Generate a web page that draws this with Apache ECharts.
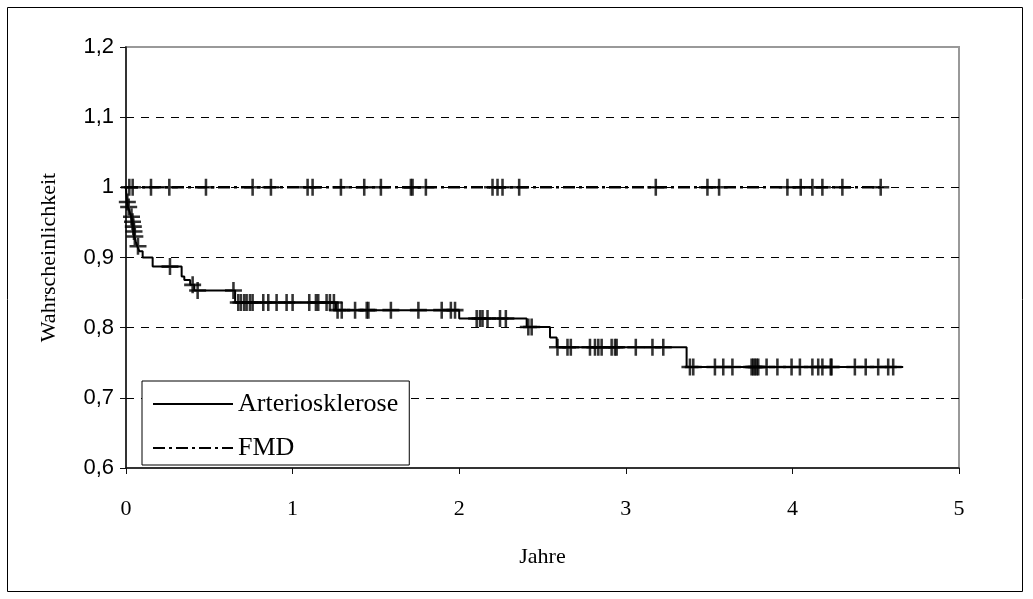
<!DOCTYPE html>
<html>
<head>
<meta charset="utf-8">
<script src="https://cdn.jsdelivr.net/npm/echarts@6/dist/echarts.min.js"></script>
<style>
html,body{margin:0;padding:0;background:#fff;}
#chart{width:1033px;height:599px;}
</style>
</head>
<body>
<div id="chart"></div>
<script>
// ---- data ----
const xTickLabels = ['0', '1', '2', '3', '4', '5'];
const yTickLabels = ['0,6', '0,7', '0,8', '0,9', '1', '1,1', '1,2'];
const seriesNames = ['Arteriosklerose', 'FMD'];

// Arteriosklerose step curve (time in years, survival probability after the step)
const arterioTimes = [0, 0.005, 0.012, 0.022, 0.03, 0.036, 0.042, 0.046, 0.05, 0.058, 0.068, 0.08, 0.1, 0.16, 0.334, 0.35, 0.385, 0.41, 0.655, 1.26, 2.0, 2.405, 2.545, 2.585, 3.365, 4.665];
const arterioSurv = [1.0, 0.979, 0.972, 0.965, 0.958, 0.951, 0.944, 0.937, 0.930, 0.923, 0.916, 0.909, 0.900, 0.887, 0.873, 0.868, 0.861, 0.853, 0.836, 0.825, 0.813, 0.801, 0.786, 0.772, 0.744, 0.744];

// Arteriosklerose censoring marks
const arterioCensorTimes = [0.008, 0.016, 0.033, 0.039, 0.044, 0.048, 0.053, 0.072,
  0.264, 0.40, 0.43, 0.645,
  0.674, 0.69, 0.71, 0.724, 0.744, 0.76, 0.824, 0.854, 0.904, 0.964, 1.0, 1.1, 1.14, 1.154, 1.204, 1.224, 1.248,
  1.27, 1.295, 1.375, 1.445, 1.455, 1.59, 1.755, 1.895, 1.95, 1.975,
  2.105, 2.125, 2.14, 2.17, 2.245, 2.28,
  2.415, 2.435,
  2.59, 2.65, 2.67, 2.785, 2.815, 2.835, 2.855, 2.915, 2.935, 2.945, 3.06, 3.16, 3.225,
  3.385, 3.405, 3.535, 3.585, 3.64, 3.755, 3.765, 3.775, 3.785, 3.795, 3.845, 3.91, 3.995, 4.045, 4.12, 4.155, 4.18, 4.23, 4.235, 4.375, 4.44, 4.515, 4.575, 4.605];
const arterioCensorSurv = [0.979, 0.972, 0.958, 0.951, 0.944, 0.937, 0.930, 0.916,
  0.887, 0.861, 0.853, 0.853,
  0.836, 0.836, 0.836, 0.836, 0.836, 0.836, 0.836, 0.836, 0.836, 0.836, 0.836, 0.836, 0.836, 0.836, 0.836, 0.836, 0.836,
  0.825, 0.825, 0.825, 0.825, 0.825, 0.825, 0.825, 0.825, 0.825, 0.825,
  0.813, 0.813, 0.813, 0.813, 0.813, 0.813,
  0.801, 0.801,
  0.772, 0.772, 0.772, 0.772, 0.772, 0.772, 0.772, 0.772, 0.772, 0.772, 0.772, 0.772, 0.772,
  0.744, 0.744, 0.744, 0.744, 0.744, 0.744, 0.744, 0.744, 0.744, 0.744, 0.744, 0.744, 0.744, 0.744, 0.744, 0.744, 0.744, 0.744, 0.744, 0.744, 0.744, 0.744, 0.744, 0.744];

// FMD curve (no events)
const fmdTimes = [0, 4.53];
const fmdSurv = [1.0, 1.0];
const fmdCensorTimes = [0.02, 0.04, 0.15, 0.26, 0.48, 0.76, 0.87, 1.09, 1.12, 1.29, 1.43, 1.53, 1.71, 1.72, 1.80, 2.20, 2.23, 2.26, 2.36, 3.18, 3.49, 3.56, 3.97, 4.05, 4.12, 4.18, 4.30, 4.53];
const fmdCensorSurv = fmdCensorTimes.map(() => 1.0);

// ---- build ----
const zip = (a, b) => a.map((v, i) => [v, b[i]]);
const plusSymbol = 'path://M6.8,0H9.2V16H6.8Z M0,6.8H16V9.2H0Z';
const serif = 'Liberation Serif';
const sans = 'Liberation Sans';

const chart = echarts.init(document.getElementById('chart'), null, {renderer: 'canvas'});
chart.setOption({
  animation: false,
  backgroundColor: '#fff',
  graphic: [{
    type: 'rect', silent: true, z: -10,
    shape: {x: 7.5, y: 7.5, width: 1015, height: 584},
    style: {fill: 'none', stroke: '#000', lineWidth: 1}
  }],
  grid: {left: 126, right: 74, top: 47, bottom: 131, show: true, borderColor: '#999', borderWidth: 2, backgroundColor: '#fff'},
  legend: {
    data: seriesNames,
    orient: 'vertical', left: 142, top: 381,
    itemWidth: 80, itemHeight: 12, itemGap: 18,
    padding: [10, 11, 4, 10],
    backgroundColor: '#fff', borderColor: '#000', borderWidth: 1, borderRadius: 0,
    textStyle: {fontFamily: serif, fontSize: 26, color: '#000'},
    itemStyle: {color: 'rgba(0,0,0,0)', borderWidth: 0, opacity: 0},
    selectedMode: false
  },
  xAxis: {
    type: 'value', min: 0, max: 5, interval: 1,
    name: 'Jahre', nameLocation: 'middle', nameGap: 78,
    nameTextStyle: {fontFamily: serif, fontSize: 22, color: '#000'},
    axisLine: {show: true, onZero: false, lineStyle: {color: '#111', width: 1.5}},
    axisTick: {show: true, inside: false, length: 6, lineStyle: {color: '#111', width: 1}},
    axisLabel: {margin: 30, fontFamily: serif, fontSize: 22, color: '#000',
      formatter: v => xTickLabels[Math.round(v)]},
    splitLine: {show: false}
  },
  yAxis: {
    type: 'value', min: 0.6, max: 1.2, interval: 0.1,
    name: 'Wahrscheinlichkeit', nameLocation: 'middle', nameGap: 66, nameRotate: 90,
    nameTextStyle: {fontFamily: serif, fontSize: 22, color: '#000'},
    axisLine: {show: true, onZero: false, lineStyle: {color: '#111', width: 1.5}},
    axisTick: {show: true, inside: false, length: 6, lineStyle: {color: '#111', width: 1}},
    axisLabel: {margin: 12, fontFamily: sans, fontSize: 22, color: '#000',
      formatter: v => yTickLabels[Math.round((v - 0.6) / 0.1)]},
    splitLine: {show: true, showMinLine: false, showMaxLine: false, lineStyle: {color: '#000', width: 1, type: [8, 7]}}
  },
  series: [
    {
      name: seriesNames[0], type: 'line', step: 'end', symbol: 'none', silent: true,
      data: zip(arterioTimes, arterioSurv),
      lineStyle: {color: '#000', width: 2, type: 'solid'},
      itemStyle: {color: '#000'}, z: 3
    },
    {
      name: seriesNames[1], type: 'line', symbol: 'none', silent: true,
      data: zip(fmdTimes, fmdSurv),
      lineStyle: {color: '#000', width: 2.5, type: [12, 4, 3, 4]},
      itemStyle: {color: '#000'}, z: 3
    },
    {
      name: 'Arteriosklerose zensiert', type: 'scatter', silent: true,
      data: zip(arterioCensorTimes, arterioCensorSurv),
      symbol: plusSymbol, symbolSize: 17,
      itemStyle: {color: '#000'}, z: 4
    },
    {
      name: 'FMD zensiert', type: 'scatter', silent: true,
      data: zip(fmdCensorTimes, fmdCensorSurv),
      symbol: plusSymbol, symbolSize: 17,
      itemStyle: {color: '#000'}, z: 4
    }
  ]
});
</script>
</body>
</html>
